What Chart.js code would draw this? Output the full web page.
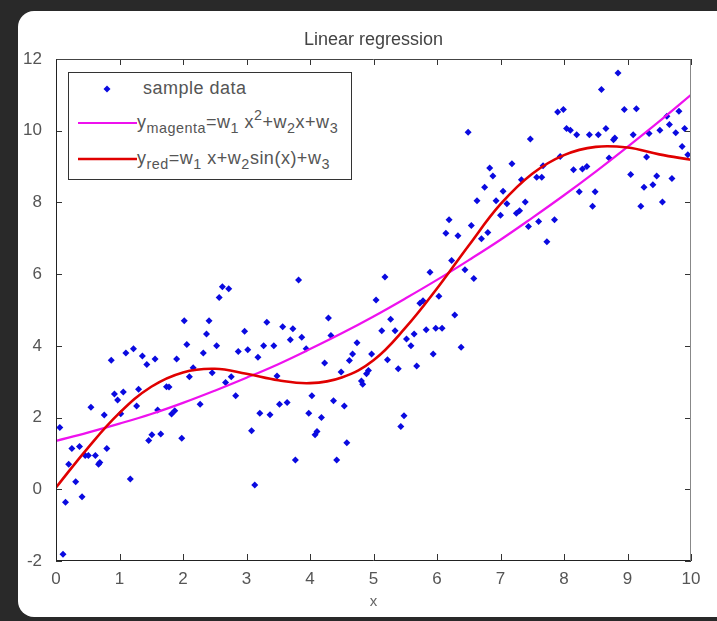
<!DOCTYPE html>
<html>
<head>
<meta charset="utf-8">
<title>Linear regression</title>
<script src="https://cdn.jsdelivr.net/npm/chart.js@4.4.1/dist/chart.umd.min.js"></script>
<style>
  html, body { margin: 0; padding: 0; width: 717px; height: 621px; overflow: hidden; background: #292929; font-family: "Liberation Sans", Arial, sans-serif; }
  #card { position: absolute; left: 18px; top: 11px; width: 720px; height: 606px; background: #fff; border-radius: 16px; }
  #wrap { position: absolute; left: 0; top: 0; width: 717px; height: 621px; }
  #legend { position: absolute; left: 68px; top: 72px; width: 282px; height: 106px; border: 1px solid #333; background: #fff; color: #555; font-size: 18px; letter-spacing: 0.5px; }
  .row { position: absolute; left: 0; height: 24px; width: 100%; }
  .sym { position: absolute; left: 9px; top: 0; width: 59px; height: 24px; }
  .txt { position: absolute; left: 68px; top: 1px; white-space: nowrap; line-height: 20px; }
  .first { left: 74px; }
  .txt sub { font-size: 0.8em; vertical-align: -5px; line-height: 0; }
  .txt sup { font-size: 0.8em; vertical-align: 8px; line-height: 0; }
</style>
</head>
<body>
<div id="card"></div>
<div id="wrap"><canvas id="chart" width="717" height="621"></canvas></div>
<div id="legend">
  <div class="row" style="top:4px"><canvas class="sym" id="symDot" width="59" height="24"></canvas><span class="txt first">sample data</span></div>
  <div class="row" style="top:38px"><canvas class="sym" id="symMag" width="59" height="24"></canvas><span class="txt">y<sub>magenta</sub>=w<sub>1</sub> x<sup>2</sup>+w<sub>2</sub>x+w<sub>3</sub></span></div>
  <div class="row" style="top:74px"><canvas class="sym" id="symRed" width="59" height="24"></canvas><span class="txt">y<sub>red</sub>=w<sub>1</sub> x+w<sub>2</sub>sin(x)+w<sub>3</sub></span></div>
</div>
<script>
// sample points
const sampleX = [0.06, 0.11, 0.15, 0.20, 0.25, 0.31, 0.37, 0.41, 0.46, 0.51, 0.55, 0.62, 0.67, 0.69, 0.76, 0.80, 0.87, 0.92, 0.97, 1.02,
  1.06, 1.10, 1.17, 1.22, 1.27, 1.30, 1.36, 1.43, 1.46, 1.51, 1.56, 1.60, 1.65, 1.74, 1.78, 1.82, 1.87, 1.90, 1.98, 2.02,
  2.06, 2.10, 2.16, 2.27, 2.32, 2.37, 2.41, 2.46, 2.53, 2.57, 2.62, 2.67, 2.72, 2.76, 2.83, 2.87, 2.97, 3.02, 3.08, 3.13,
  3.18, 3.21, 3.27, 3.32, 3.37, 3.43, 3.48, 3.52, 3.57, 3.64, 3.69, 3.73, 3.77, 3.82, 3.87, 3.94, 3.98, 4.03, 4.08, 4.11,
  4.18, 4.23, 4.29, 4.33, 4.37, 4.42, 4.49, 4.54, 4.58, 4.62, 4.67, 4.74, 4.81, 4.83, 4.89, 4.92, 4.97, 5.04, 5.13, 5.18,
  5.22, 5.27, 5.34, 5.39, 5.43, 5.48, 5.52, 5.59, 5.64, 5.68, 5.73, 5.78, 5.83, 5.89, 5.94, 5.98, 6.03, 6.08, 6.14, 6.19,
  6.23, 6.28, 6.33, 6.38, 6.44, 6.49, 6.54, 6.58, 6.63, 6.70, 6.75, 6.80, 6.83, 6.88, 6.93, 7.00, 7.04, 7.10, 7.18, 7.25,
  7.30, 7.33, 7.39, 7.44, 7.47, 7.57, 7.60, 7.65, 7.67, 7.73, 7.85, 7.90, 7.94, 7.99, 8.04, 8.10, 8.15, 8.20, 8.24, 8.29,
  8.36, 8.40, 8.45, 8.49, 8.54, 8.59, 8.66, 8.71, 8.78, 8.80, 8.85, 8.95, 9.05, 9.09, 9.14, 9.21, 9.26, 9.30, 9.34, 9.40,
  9.46, 9.51, 9.55, 9.62, 9.66, 9.70, 9.76, 9.81, 9.86, 9.90, 9.95];
const sampleY = [1.72, -1.81, -0.36, 0.70, 1.14, 0.21, 1.19, -0.21, 0.94, 0.94, 2.29, 0.94, 0.70, 0.75, 2.07, 1.14, 3.60, 2.66, 2.49, 2.11,
  2.71, 3.80, 0.29, 3.92, 2.32, 2.79, 3.72, 3.48, 1.36, 1.52, 3.63, 2.21, 1.54, 2.86, 2.85, 2.10, 2.19, 3.63, 1.42, 4.70,
  4.04, 3.14, 3.39, 2.37, 3.80, 4.33, 4.70, 3.25, 4.00, 5.35, 5.65, 2.98, 5.59, 3.14, 2.61, 3.84, 4.41, 3.89, 1.63, 0.12,
  3.68, 2.12, 4.00, 4.66, 2.08, 4.00, 3.16, 2.37, 4.53, 2.42, 4.17, 4.48, 0.82, 5.84, 4.24, 3.92, 2.12, 2.61, 1.52, 1.61,
  2.00, 3.52, 4.78, 4.29, 2.47, 0.82, 3.27, 2.32, 1.30, 3.59, 3.77, 4.09, 3.02, 2.93, 3.22, 3.31, 3.77, 5.28, 4.42, 5.92,
  3.61, 4.74, 4.42, 3.36, 1.75, 2.05, 4.19, 4.00, 4.33, 3.44, 5.19, 5.26, 4.45, 6.05, 3.77, 4.49, 5.38, 4.49, 7.14, 7.52,
  6.38, 4.86, 7.07, 3.96, 6.12, 9.96, 7.36, 5.88, 8.05, 6.99, 8.42, 7.16, 8.96, 8.74, 8.05, 7.64, 8.31, 7.96, 9.08, 7.70,
  7.77, 8.63, 8.01, 7.33, 9.77, 8.70, 7.47, 8.70, 9.02, 6.90, 7.52, 10.52, 9.28, 10.59, 10.06, 10.01, 8.91, 9.89, 8.30, 8.93,
  9.00, 9.89, 7.89, 8.30, 9.89, 11.15, 10.06, 9.24, 9.75, 9.80, 11.61, 10.59, 8.78, 9.89, 10.61, 7.89, 8.42, 9.27, 9.92, 8.49,
  8.74, 10.01, 8.01, 10.40, 10.17, 8.67, 9.94, 10.54, 9.56, 10.06, 9.33];

// fitted curves, read at half-unit steps
const curveX = [0, 0.5, 1, 1.5, 2, 2.5, 3, 3.5, 4, 4.5, 5, 5.5, 6, 6.5, 7, 7.5, 8, 8.5, 9, 9.5, 10];
const magentaY = [1.35, 1.58, 1.83, 2.10, 2.41, 2.75, 3.11, 3.49, 3.91, 4.35, 4.82, 5.32, 5.84, 6.39, 6.96, 7.57, 8.20, 8.86, 9.55, 10.26, 11.0];
const redY = [0.05, 1.15, 2.13, 2.86, 3.26, 3.36, 3.22, 3.04, 2.96, 3.12, 3.60, 4.50, 5.60, 6.80, 7.95, 8.80, 9.32, 9.55, 9.53, 9.34, 9.19];

const xTicks = [0, 1, 2, 3, 4, 5, 6, 7, 8, 9, 10];
const yTicks = [-2, 0, 2, 4, 6, 8, 10, 12];

const blue = '#0a0ae0';
const magenta = '#ee11ee';
const red = '#e00000';
const fontFamily = '"Liberation Sans", Arial, sans-serif';

function toPoints(xs, ys) {
  return xs.map((x, i) => ({x: x, y: ys[i]}));
}

// MATLAB style box with inward ticks
const boxFrame = {
  id: 'boxFrame',
  afterDatasetsDraw(chart) {
    const {ctx, chartArea: a, scales: {x, y}} = chart;
    ctx.save();
    ctx.lineWidth = 1;
    ctx.strokeStyle = '#333';
    xTicks.forEach(v => {
      const px = Math.round(x.getPixelForValue(v)) + 0.5;
      ctx.beginPath();
      ctx.moveTo(px, a.bottom); ctx.lineTo(px, a.bottom - 7);
      ctx.moveTo(px, a.top); ctx.lineTo(px, a.top + 6);
      ctx.stroke();
    });
    yTicks.forEach(v => {
      const py = Math.round(y.getPixelForValue(v)) + 0.5;
      ctx.beginPath();
      ctx.moveTo(a.left, py); ctx.lineTo(a.left + 6, py);
      ctx.moveTo(a.right, py); ctx.lineTo(a.right - 6, py);
      ctx.stroke();
    });
    const l = Math.round(a.left) + 0.5, r = Math.round(a.right) - 0.5;
    const t = Math.round(a.top) + 0.5, b = Math.round(a.bottom) - 0.5;
    ctx.strokeStyle = '#444';
    ctx.beginPath(); ctx.moveTo(l, t); ctx.lineTo(r, t); ctx.stroke();
    ctx.strokeStyle = '#888';
    ctx.beginPath(); ctx.moveTo(r, t); ctx.lineTo(r, b); ctx.stroke();
    ctx.strokeStyle = '#222';
    ctx.beginPath(); ctx.moveTo(l, t); ctx.lineTo(l, b); ctx.lineTo(r, b); ctx.stroke();
    ctx.restore();
  }
};

new Chart(document.getElementById('chart'), {
  type: 'scatter',
  data: {
    datasets: [
      {
        label: 'yred',
        data: toPoints(curveX, redY),
        showLine: true,
        borderColor: red,
        borderWidth: 2.6,
        tension: 0.4,
        pointRadius: 0,
        order: 0
      },
      {
        label: 'ymagenta',
        data: toPoints(curveX, magentaY),
        showLine: true,
        borderColor: magenta,
        borderWidth: 2.2,
        tension: 0.4,
        pointRadius: 0,
        order: 1
      },
      {
        label: 'sample data',
        data: toPoints(sampleX, sampleY),
        pointStyle: 'rectRot',
        pointRadius: 3.5,
        backgroundColor: blue,
        borderColor: blue,
        borderWidth: 0,
        order: 2
      }
    ]
  },
  options: {
    responsive: false,
    animation: false,
    events: [],
    layout: { padding: { left: 0, right: 26, top: 0, bottom: 10 } },
    plugins: {
      legend: { display: false },
      tooltip: { enabled: false },
      title: {
        display: true,
        text: 'Linear regression',
        fullSize: false,
        color: '#444',
        font: { family: fontFamily, size: 18, weight: 'normal', lineHeight: 1.2 },
        padding: { top: 29, bottom: 8.4 }
      }
    },
    scales: {
      x: {
        type: 'linear',
        min: 0,
        max: 10,
        grid: { display: false },
        border: { display: false },
        afterFit(scale) { scale.height = 50; },
        afterBuildTicks(scale) { scale.ticks = xTicks.map(v => ({value: v})); },
        ticks: { padding: 0, color: '#555', font: { family: fontFamily, size: 17, lineHeight: 1.2 } },
        title: {
          display: true,
          text: 'x',
          color: '#666',
          padding: { top: 0, bottom: 0 },
          font: { family: fontFamily, size: 15, lineHeight: 1.2 }
        }
      },
      y: {
        type: 'linear',
        min: -2,
        max: 12,
        grid: { display: false },
        border: { display: false },
        afterFit(scale) { scale.width = 56; },
        afterBuildTicks(scale) { scale.ticks = yTicks.map(v => ({value: v})); },
        ticks: { padding: 6, color: '#555', font: { family: fontFamily, size: 17, lineHeight: 1.2 } }
      }
    }
  },
  plugins: [boxFrame]
});

// legend symbols
function drawSym(id, kind, color) {
  const c = document.getElementById(id).getContext('2d');
  if (kind === 'dot') {
    c.fillStyle = color;
    c.beginPath();
    c.moveTo(29, 12 - 3.5); c.lineTo(32.5, 12); c.lineTo(29, 12 + 3.5); c.lineTo(25.5, 12);
    c.closePath(); c.fill();
  } else {
    c.strokeStyle = color;
    c.lineWidth = kind === 'red' ? 2.6 : 2.2;
    c.beginPath(); c.moveTo(0, 12); c.lineTo(59, 12); c.stroke();
  }
}
drawSym('symDot', 'dot', blue);
drawSym('symMag', 'line', magenta);
drawSym('symRed', 'red', red);
</script>
</body>
</html>
